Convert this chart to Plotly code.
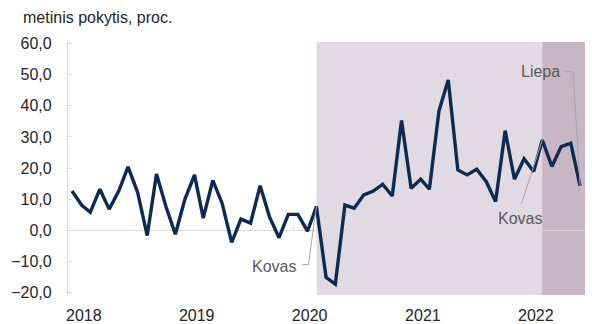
import pandas as pd
import plotly.graph_objects as go

# ---- data ----
start_month = "2018-01-01"
values = [
    12.6, 8.1, 5.8, 13.2, 6.8, 12.6, 20.4, 12.2, -1.7, 18.1, 7.5, -1.3,   # 2018
    10.0, 17.8, 3.9, 16.0, 8.7, -3.9, 3.6, 2.3, 14.3, 4.4, -2.4, 5.1,     # 2019
    5.1, -0.3, 7.6, -15.1, -17.3, 8.1, 7.1, 11.4, 12.6, 14.8, 11.0, 35.3, # 2020
    13.5, 16.4, 13.2, 38.4, 48.3, 19.4, 17.8, 19.6, 15.6, 9.2, 32.0, 16.4,# 2021
    23.0, 18.9, 29.0, 20.5, 26.9, 28.0, 14.3,                             # 2022
]
dates = pd.date_range(start_month, periods=len(values), freq="MS")

years = [2018, 2019, 2020, 2021, 2022]
y_tickvals = [60, 50, 40, 30, 20, 10, 0, -10, -20]
y_ticktext = ["60,0", "50,0", "40,0", "30,0", "20,0", "10,0", "0,0", "\u221210,0", "\u221220,0"]

period1_start = "2020-03-01"   # Kovas 2020
period2_start = "2022-03-01"   # Kovas 2022
last_label = "2022-07-01"      # Liepa

annot_title = "metinis pokytis, proc."
x_range = ["2017-12-19", "2022-07-17"]
y_range = [-20.8, 60.5]

def val_at(d):
    return values[list(dates).index(pd.Timestamp(d))]

fig = go.Figure()
fig.add_trace(go.Scatter(
    x=dates, y=values, mode="lines",
    line=dict(color="#0C2A52", width=3.4),
    hoverinfo="skip", showlegend=False,
))

shapes = [
    dict(type="rect", xref="x", yref="paper", x0=period1_start, x1=x_range[1],
         y0=0, y1=1, fillcolor="#E1DAE2", line=dict(width=0), layer="below"),
    dict(type="rect", xref="x", yref="paper", x0=period2_start, x1=x_range[1],
         y0=0, y1=1, fillcolor="#C8B7C3", line=dict(width=0), layer="below"),
]
# small year ticks on the zero line
for yr in years[1:]:
    shapes.append(dict(type="line", xref="x", yref="y", ysizemode="pixel", yanchor=0,
                       x0=f"{yr-1}-12-17", x1=f"{yr-1}-12-17", y0=0, y1=4,
                       line=dict(color="#D9D9D9", width=1), layer="below"))

leader = dict(color="#A6A6A6", width=1)
# leaders (pixel paths anchored at data points)
shapes.append(dict(type="path", xref="x", yref="y", xsizemode="pixel", ysizemode="pixel",
                   xanchor=period1_start, yanchor=val_at(period1_start),
                   path="M0,0 L-8,-58 L-14,-58", line=leader))
shapes.append(dict(type="path", xref="x", yref="y", xsizemode="pixel", ysizemode="pixel",
                   xanchor=period2_start, yanchor=val_at(period2_start),
                   path="M0,0 L-21,-64", line=leader))
shapes.append(dict(type="path", xref="x", yref="y", xsizemode="pixel", ysizemode="pixel",
                   xanchor=last_label, yanchor=val_at(last_label),
                   path="M0,0 L-7,114 L-15,114", line=leader))

fnt = "Liberation Sans, Arial, sans-serif"
FS = 16
ann_font = dict(family=fnt, size=FS, color="#595959")
annotations = [
    dict(x=period1_start, y=val_at(period1_start), xref="x", yref="y", text="Kovas",
         showarrow=False, xanchor="center", yanchor="middle", xshift=-42, yshift=-60, font=ann_font),
    dict(x=period2_start, y=val_at(period2_start), xref="x", yref="y", text="Kovas",
         showarrow=False, xanchor="center", yanchor="middle", xshift=-22, yshift=-78, font=ann_font),
    dict(x=last_label, y=val_at(last_label), xref="x", yref="y", text="Liepa",
         showarrow=False, xanchor="center", yanchor="middle", xshift=-40, yshift=114, font=ann_font),
]

fig.update_layout(
    width=592, height=324,
    margin=dict(l=68, r=7, t=42, b=29, autoexpand=False),
    paper_bgcolor="white", plot_bgcolor="white",
    font=dict(family=fnt, size=FS, color="#262626"),
    title=dict(text=annot_title, x=23/592, xanchor="left", xref="container",
               y=1-17/324, yanchor="middle", yref="container",
               font=dict(family=fnt, size=FS, color="#262626")),
    shapes=shapes, annotations=annotations,
    showlegend=False,
)
fig.update_xaxes(
    type="date", range=x_range, showgrid=False, zeroline=False, showline=False,
    automargin=False,
    tickvals=[f"{y}-02-08" for y in years], ticktext=[str(y) for y in years],
    ticks="outside", ticklen=6, tickcolor="rgba(0,0,0,0)",
    tickfont=dict(family=fnt, size=FS, color="#262626"),
)
fig.update_yaxes(
    range=y_range, showgrid=False, automargin=False,
    zeroline=True, zerolinecolor="#D9D9D9", zerolinewidth=1.3,
    showline=True, linecolor="#D9D9D9", linewidth=1.3,
    ticks="inside", ticklen=4, tickcolor="#D9D9D9",
    tickvals=y_tickvals, ticktext=y_ticktext, ticklabelstandoff=12,
    tickfont=dict(family=fnt, size=FS, color="#262626"),
)

fig.write_html("out.html")
